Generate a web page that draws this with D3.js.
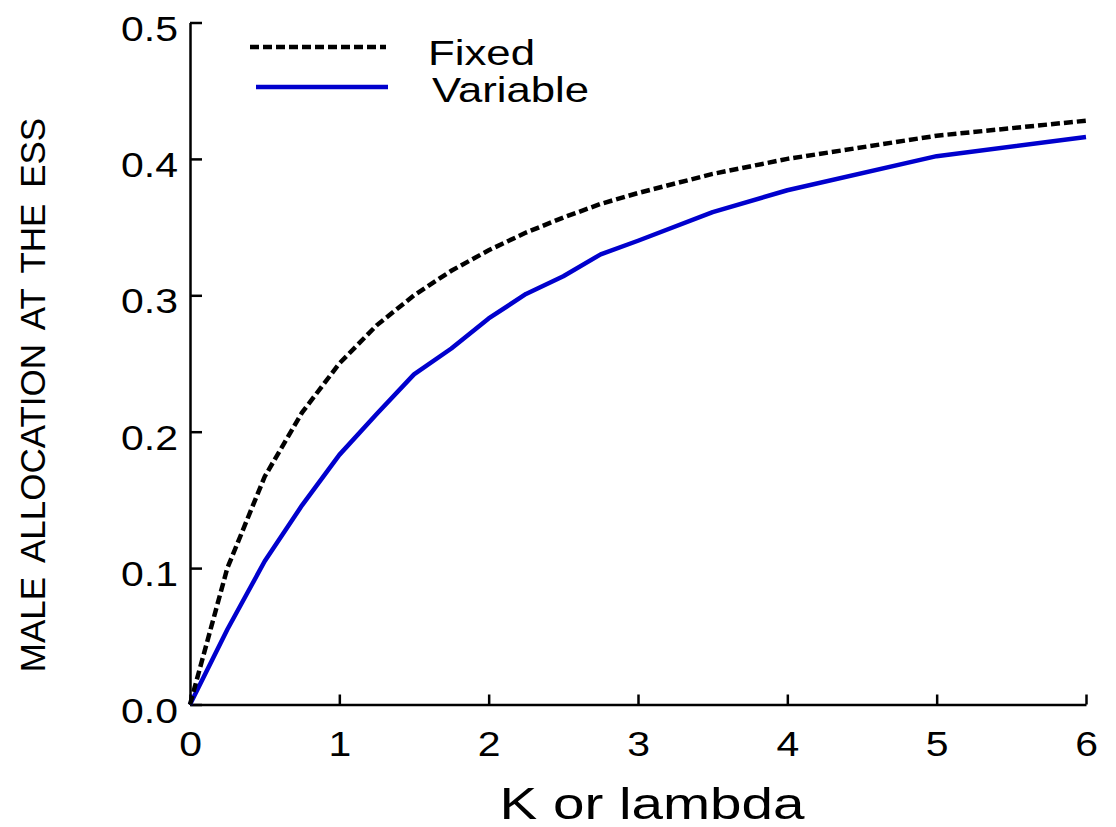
<!DOCTYPE html>
<html>
<head>
<meta charset="utf-8">
<script src="https://cdn.jsdelivr.net/npm/d3@7"></script>
<style>
  html, body { margin: 0; padding: 0; background: #fff; }
  svg { display: block; font-family: "Liberation Sans", Arial, sans-serif; }
</style>
</head>
<body>
<svg id="chart" width="1116" height="827"></svg>
<script>
// ---- data ----
const kValues = [0, 0.25, 0.5, 0.75, 1, 1.25, 1.5, 1.75, 2, 2.25, 2.5, 2.75, 3, 3.5, 4, 5, 6];
const fixedValues = [0, 0.100, 0.167, 0.214, 0.250, 0.278, 0.300, 0.318, 0.333, 0.346, 0.357, 0.367, 0.375, 0.389, 0.400, 0.417, 0.428];
const variableValues = [0, 0.055, 0.105, 0.146, 0.183, 0.213, 0.242, 0.261, 0.283, 0.301, 0.314, 0.330, 0.340, 0.361, 0.377, 0.402, 0.416];
const xTicks = [0, 1, 2, 3, 4, 5, 6];
const yTicks = [0, 0.1, 0.2, 0.3, 0.4, 0.5];
const seriesNames = ["Fixed", "Variable"];
const xTitle = "K or lambda";
const yTitle = "MALE ALLOCATION AT THE ESS";

const svg = d3.select("#chart");
const x = d3.scaleLinear().domain([0, 6]).range([190, 1086]);
const y = d3.scaleLinear().domain([0, 0.5]).range([704.5, 22.5]);

const tickFont = 35;
const stretchX = 1.17;

function stretch(sel, factor) {
  sel.each(function () {
    const w = this.getComputedTextLength();
    d3.select(this).attr("textLength", w * factor).attr("lengthAdjust", "spacingAndGlyphs");
  });
}

// y axis
const yAxis = svg.append("g").attr("transform", "translate(190,0)")
  .call(d3.axisLeft(y).tickValues(yTicks).tickFormat(d3.format(".1f"))
    .tickSizeInner(-12).tickSizeOuter(0).tickPadding(12));
yAxis.selectAll("text").attr("font-size", tickFont).attr("fill", "#000")
  .attr("font-family", "Liberation Sans, Arial, sans-serif").attr("dy", "0.5em")
  .call(stretch, stretchX);

// x axis
const xAxis = svg.append("g").attr("transform", "translate(0,704.5)")
  .call(d3.axisBottom(x).tickValues(xTicks).tickFormat(d3.format("d"))
    .tickSizeInner(-10).tickSizeOuter(0).tickPadding(27));
xAxis.selectAll("text").attr("font-size", tickFont).attr("fill", "#000")
  .attr("font-family", "Liberation Sans, Arial, sans-serif")
  .call(stretch, stretchX);

svg.selectAll(".domain, .tick line").attr("stroke", "#000").attr("stroke-width", 2.5);

// lines
const fixedData = kValues.map((k, i) => [k, fixedValues[i]]);
const varData = kValues.map((k, i) => [k, variableValues[i]]);
const line = d3.line().x(d => x(d[0])).y(d => y(d[1]));

svg.append("path").datum(varData).attr("d", line)
  .attr("fill", "none").attr("stroke", "#0000cd").attr("stroke-width", 4.5)
  .attr("stroke-linejoin", "round");
svg.append("path").datum(fixedData).attr("d", line)
  .attr("fill", "none").attr("stroke", "#000").attr("stroke-width", 4.5)
  .attr("stroke-dasharray", "9,4");

// legend
const leg = svg.append("g");
leg.append("line").attr("x1", 250).attr("x2", 386).attr("y1", 47).attr("y2", 47)
  .attr("stroke", "#000").attr("stroke-width", 4.5).attr("stroke-dasharray", "9,4");
leg.append("line").attr("x1", 256).attr("x2", 388).attr("y1", 87).attr("y2", 87)
  .attr("stroke", "#0000cd").attr("stroke-width", 4.5);
leg.append("text").attr("x", 428).attr("y", 65).attr("font-size", tickFont)
  .attr("textLength", 107).attr("lengthAdjust", "spacingAndGlyphs").text(seriesNames[0]);
leg.append("text").attr("x", 432).attr("y", 102).attr("font-size", tickFont)
  .attr("textLength", 157).attr("lengthAdjust", "spacingAndGlyphs").text(seriesNames[1]);

// axis titles
svg.append("text").attr("x", 652).attr("y", 819).attr("text-anchor", "middle")
  .attr("font-size", 44).attr("textLength", 305).attr("lengthAdjust", "spacingAndGlyphs")
  .text(xTitle);
svg.append("text").attr("transform", "translate(45,395) rotate(-90)")
  .attr("text-anchor", "middle").attr("font-size", 35).attr("word-spacing", 6)
  .text(yTitle);
</script>
</body>
</html>
